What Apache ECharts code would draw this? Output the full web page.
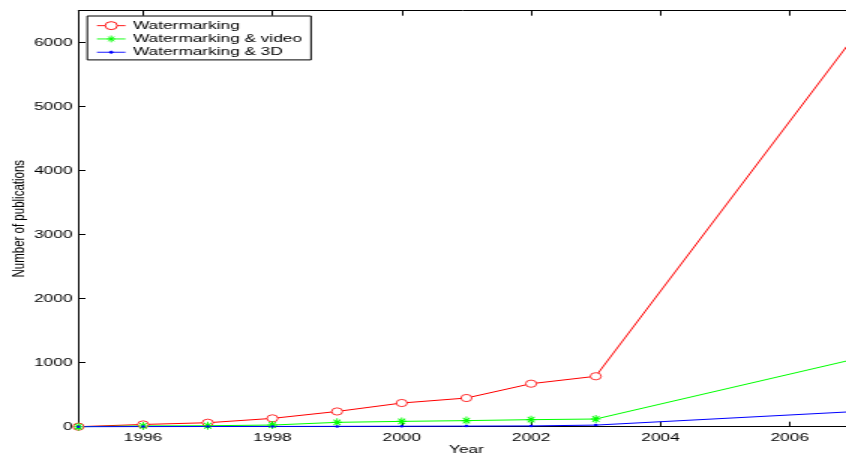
<!DOCTYPE html>
<html>
<head>
<meta charset="utf-8">
<script src="https://cdn.jsdelivr.net/npm/echarts@6/dist/echarts.min.js"></script>
<style>
  html, body { margin: 0; padding: 0; background: #fff; overflow: hidden; }
  #wrap { width: 846px; height: 457px; overflow: hidden; position: relative; }
  #chart { width: 564px; height: 457px; transform: scaleX(1.5); transform-origin: 0 0; }
</style>
</head>
<body>
<div id="wrap"><div id="chart"></div></div>
<script>
// ---- data ----
const years = [1995, 1996, 1997, 1998, 1999, 2000, 2001, 2002, 2003, 2007];
const watermarking = [0, 35, 62, 130, 238, 370, 448, 672, 788, 6100];
const watermarkingVideo = [0, 12, 15, 26, 68, 83, 95, 110, 120, 1055];
const watermarking3D = [0, 2, 3, 4, 5, 7, 9, 12, 25, 236];
const xTicks = [1996, 1998, 2000, 2002, 2004, 2006];
const yTicks = [0, 1000, 2000, 3000, 4000, 5000, 6000];
const seriesNames = ['Watermarking', 'Watermarking & video', 'Watermarking & 3D'];
const colors = ['#ff0000', '#00ff00', '#0000ff'];

const pairs = vals => years.map((y, i) => [y, vals[i]]);
const FONT = 'Liberation Sans, Arial, Helvetica, sans-serif';
const FS = 11.5;

// marker shapes
const CIRCLE = 'path://M1,0A1,1 0 1 1 -1,0A1,1 0 1 1 1,0Z';
const STAR = 'path://M0,-10L0,10M-10,0L10,0M-7,-7L7,7M-7,7L7,-7';
// legend icons (line + marker), bbox 19 x 8
const ICON_CIRCLE = 'path://M0,0M19,8M0,4L5.5,4M13.5,4L19,4M13.5,4A4,4 0 1 1 5.5,4A4,4 0 1 1 13.5,4';
const ICON_STAR = 'path://M0,0M19,8M0,4L19,4M9.5,0.6L9.5,7.4M6.8,4L12.2,4M7.6,1.6L11.4,6.4M7.6,6.4L11.4,1.6';
const ICON_DOT = 'path://M0,0M19,8M0,4L19,4M10.6,4A1.1,1.1 0 1 1 8.4,4A1.1,1.1 0 1 1 10.6,4Z';

const chart = echarts.init(document.getElementById('chart'), null, { renderer: 'canvas' });
chart.setOption({
  animation: false,
  backgroundColor: '#fff',
  textStyle: { fontFamily: FONT },
  grid: { left: 52.3, right: -5.6, top: 10.7, bottom: 30.3, outerBoundsMode: 'none', containLabel: false },
  legend: {
    orient: 'vertical',
    left: 58.2,
    top: 16,
    padding: [3, 6, 1, 6],
    itemGap: 0,
    itemWidth: 19,
    itemHeight: 8,
    borderColor: '#000',
    borderWidth: 1,
    backgroundColor: '#fff',
    symbolKeepAspect: false,
    textStyle: { fontFamily: FONT, fontSize: FS, color: '#000', lineHeight: 13.3 },
    data: [
      { name: seriesNames[0], icon: ICON_CIRCLE, itemStyle: { color: 'rgba(0,0,0,0)', borderColor: colors[0], borderWidth: 0.9 } },
      { name: seriesNames[1], icon: ICON_STAR, itemStyle: { color: 'rgba(0,0,0,0)', borderColor: colors[1], borderWidth: 0.9 } },
      { name: seriesNames[2], icon: ICON_DOT, itemStyle: { color: colors[2], borderColor: colors[2], borderWidth: 0.9 } }
    ]
  },
  xAxis: [{
    type: 'value',
    position: 'bottom',
    min: 1995, max: 2007,
    name: 'Year',
    nameLocation: 'middle',
    nameGap: 17,
    nameMoveOverlap: false,
    nameTextStyle: { fontFamily: FONT, fontSize: FS, color: '#000', verticalAlign: 'top' },
    axisLine: { show: true, onZero: false, lineStyle: { color: '#000', width: 1 } },
    axisTick: { show: true, inside: true, length: 5, customValues: xTicks, lineStyle: { color: '#000' } },
    axisLabel: { customValues: xTicks, margin: 5, fontFamily: FONT, fontSize: FS, color: '#000', formatter: v => String(v) },
    splitLine: { show: false }
  }, {
    type: 'value',
    position: 'top',
    min: 1995, max: 2007,
    axisLine: { show: true, onZero: false, lineStyle: { color: '#000', width: 1 } },
    axisTick: { show: true, inside: true, length: 5, customValues: xTicks, lineStyle: { color: '#000' } },
    axisLabel: { show: false },
    splitLine: { show: false }
  }],
  yAxis: {
    type: 'value',
    min: 0, max: 6500,
    name: 'Number of publications',
    nameLocation: 'middle',
    nameGap: 33,
    nameRotate: 90,
    nameMoveOverlap: false,
    nameTextStyle: { fontFamily: FONT, fontSize: 11.5, color: '#000' },
    axisLine: { show: true, onZero: false, lineStyle: { color: '#000', width: 1 } },
    axisTick: { show: true, inside: true, length: 4.7, customValues: yTicks, lineStyle: { color: '#000' } },
    axisLabel: { customValues: yTicks, margin: 4, fontFamily: FONT, fontSize: FS, color: '#000', formatter: v => String(v) },
    splitLine: { show: false }
  },
  series: [{
    name: seriesNames[0],
    type: 'line',
    data: pairs(watermarking),
    symbol: CIRCLE,
    symbolSize: 7.2,
    showAllSymbol: true,
    clip: false,
    lineStyle: { color: colors[0], width: 1 },
    itemStyle: { color: '#fff', borderColor: colors[0], borderWidth: 0.8 }
  }, {
    name: seriesNames[1],
    type: 'line',
    data: pairs(watermarkingVideo),
    symbol: STAR,
    symbolSize: [6.5, 8],
    symbolKeepAspect: false,
    showAllSymbol: true,
    clip: false,
    lineStyle: { color: colors[1], width: 1 },
    itemStyle: { color: 'rgba(0,0,0,0)', borderColor: colors[1], borderWidth: 1 }
  }, {
    name: seriesNames[2],
    type: 'line',
    data: pairs(watermarking3D),
    symbol: 'circle',
    symbolSize: 2.5,
    showAllSymbol: true,
    clip: false,
    lineStyle: { color: colors[2], width: 1 },
    itemStyle: { color: colors[2] }
  }]
});
</script>
</body>
</html>
